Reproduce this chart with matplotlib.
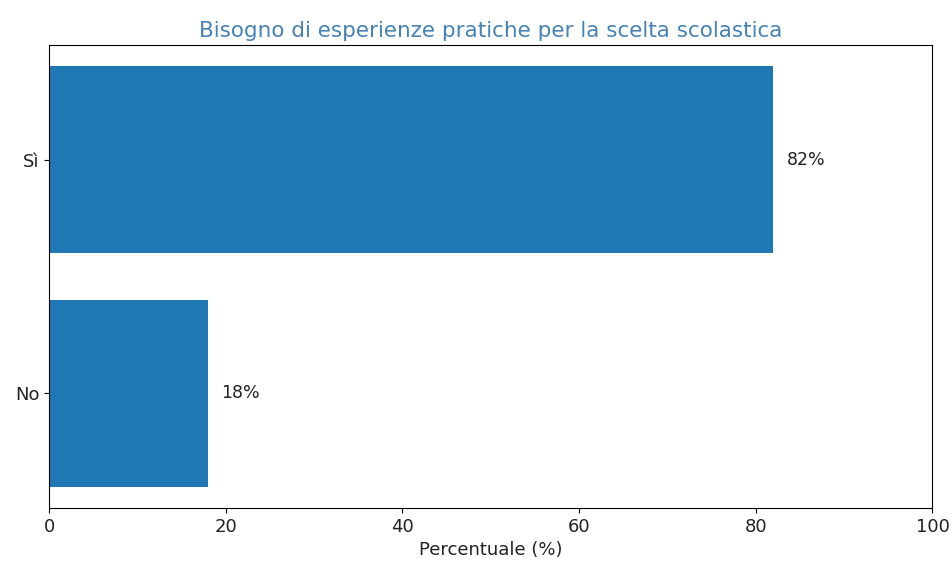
import matplotlib
matplotlib.use("Agg")
import matplotlib.pyplot as plt

categories = ["No", "Sì"]
values = [18, 82]
labels = ["18%", "82%"]

fig = plt.figure(figsize=(9.52, 5.66), dpi=100)
ax = fig.add_axes([0.0515, 0.1025, 0.928, 0.8175])

txt = "#222222"
bars = ax.barh(categories, values, height=0.8, color="#1f77b4")
for b, lab in zip(bars, labels):
    ax.text(b.get_width() + 1.5, b.get_y() + b.get_height() / 2, lab,
            va="center", ha="left", fontsize=12.5, color=txt)

ax.set_xlim(0, 100)
ax.set_xlabel("Percentuale (%)", fontsize=13, color=txt)
ax.set_title("Bisogno di esperienze pratiche per la scelta scolastica",
             color="#4682B4", fontsize=15.5)
ax.tick_params(labelsize=13, labelcolor=txt)

fig.savefig("out.png", dpi=100)
